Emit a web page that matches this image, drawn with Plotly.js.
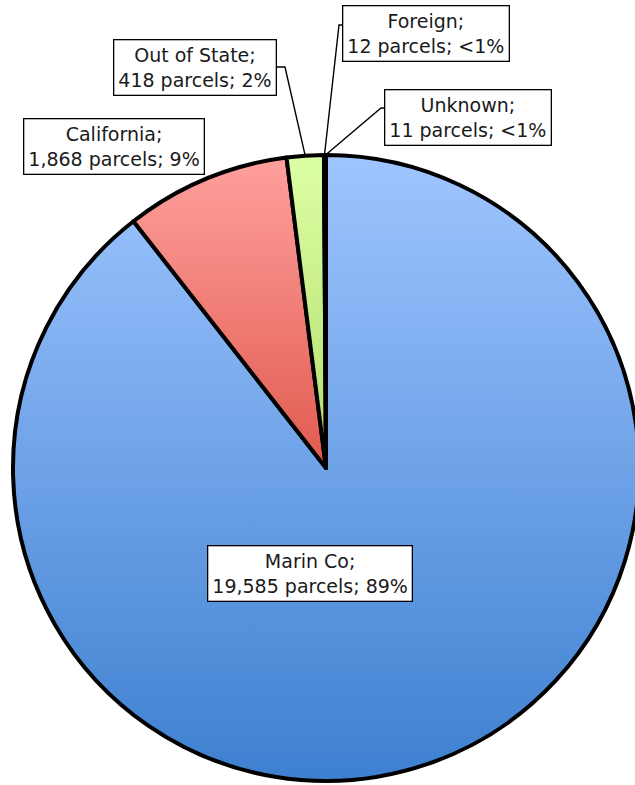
<!DOCTYPE html>
<html>
<head>
<meta charset="utf-8">
<script src="https://cdn.plot.ly/plotly-3.0.1.min.js"></script>
<style>
html,body{margin:0;padding:0;overflow:hidden;background:#fff;}
#chart{width:650px;height:785px;}
</style>
</head>
<body>
<div id="chart"></div>
<script>
// ---- data ----
const categories = ["Marin Co", "California", "Out of State", "Foreign", "Unknown"];
const parcels = [19585, 1868, 418, 12, 11];
const pctLabels = ["89%", "9%", "2%", "<1%", "<1%"];
const gradTop = ["#9fc5ff", "#ffa09d", "#dcffa4", "#b7a0e0", "#9fe0e0"];
const gradBottom = ["#3d80d0", "#e05a4e", "#b4dc6c", "#7a5cb0", "#40a8b0"];

// ---- layout constants ----
const W = 650, H = 785;
const cx = 326, cy = 468, R = 313;
const px = x => x / W;
const py = y => (H - y) / H;

// label boxes centres (pixels)
const boxPos = [[310, 573], [114, 147], [195, 68], [426, 34], [468, 118]];

function fmt(n){ return n.toLocaleString('en-US'); }

const annotations = categories.map((c, i) => ({
  xref: 'paper', yref: 'paper',
  x: px(boxPos[i][0]), y: py(boxPos[i][1]),
  xanchor: 'center', yanchor: 'middle',
  text: c + ';<br>' + fmt(parcels[i]) + ' parcels; ' + pctLabels[i],
  showarrow: false,
  font: {family: 'DejaVu Sans, sans-serif', size: 19, color: '#1a1a1a'},
  bgcolor: '#ffffff', bordercolor: '#000000', borderwidth: 1.3, borderpad: 4,
  align: 'center'
}));

// leader lines for small slices: end point computed from slice mid-angles
const total = parcels.reduce((a, b) => a + b, 0);
let cum = 0;
const midAngles = parcels.map(v => { const m = (cum + v / 2) / total * 360; cum += v; return m; });
function edgePoint(i){
  const a = midAngles[i] * Math.PI / 180;
  return [cx + R * Math.sin(a), cy - R * Math.cos(a)];
}
// box-side anchor and elbow for leaders
const leaders = [
  {i: 2, start: [275, 67], elbow: [285, 67]},
  {i: 3, start: [348, 25], elbow: [339, 25]},
  {i: 4, start: [390, 108], elbow: [381, 108]}
];
const shapes = leaders.map(l => {
  const e = edgePoint(l.i);
  return {
    type: 'path', xref: 'paper', yref: 'paper', layer: 'below',
    path: `M${px(l.start[0])},${py(l.start[1])} L${px(l.elbow[0])},${py(l.elbow[1])} L${px(e[0])},${py(e[1])}`,
    line: {color: '#000', width: 1.4}
  };
});

const trace = {
  type: 'pie',
  labels: categories,
  values: parcels,
  sort: false,
  direction: 'clockwise',
  rotation: 0,
  textinfo: 'none',
  hoverinfo: 'label+value+percent',
  marker: {colors: gradTop, line: {color: '#000', width: 4}},
  domain: {x: [px(cx - R), px(cx + R)], y: [py(cy + R), py(cy - R)]}
};

const layout = {
  width: W, height: H,
  margin: {l: 0, r: 0, t: 0, b: 0},
  showlegend: false,
  paper_bgcolor: '#fff',
  plot_bgcolor: 'rgba(0,0,0,0)',
  annotations: annotations,
  shapes: shapes
};

Plotly.newPlot('chart', [trace], layout, {displayModeBar: false, staticPlot: true}).then(() => {
  const svg = document.querySelector('#chart .main-svg');
  const NS = 'http://www.w3.org/2000/svg';
  let defs = svg.querySelector('defs');
  if (!defs) { defs = document.createElementNS(NS, 'defs'); svg.insertBefore(defs, svg.firstChild); }
  categories.forEach((c, i) => {
    const g = document.createElementNS(NS, 'linearGradient');
    g.setAttribute('id', 'pieGrad' + i);
    g.setAttribute('x1', '0'); g.setAttribute('y1', '0');
    g.setAttribute('x2', '0'); g.setAttribute('y2', '1');
    const s1 = document.createElementNS(NS, 'stop');
    s1.setAttribute('offset', '0'); s1.setAttribute('stop-color', gradTop[i]);
    const s2 = document.createElementNS(NS, 'stop');
    s2.setAttribute('offset', '1'); s2.setAttribute('stop-color', gradBottom[i]);
    g.appendChild(s1); g.appendChild(s2);
    defs.appendChild(g);
  });
  const paths = document.querySelectorAll('#chart g.slice path.surface');
  paths.forEach((p, i) => { p.style.fill = 'url(#pieGrad' + i + ')'; });
});
</script>
</body>
</html>
